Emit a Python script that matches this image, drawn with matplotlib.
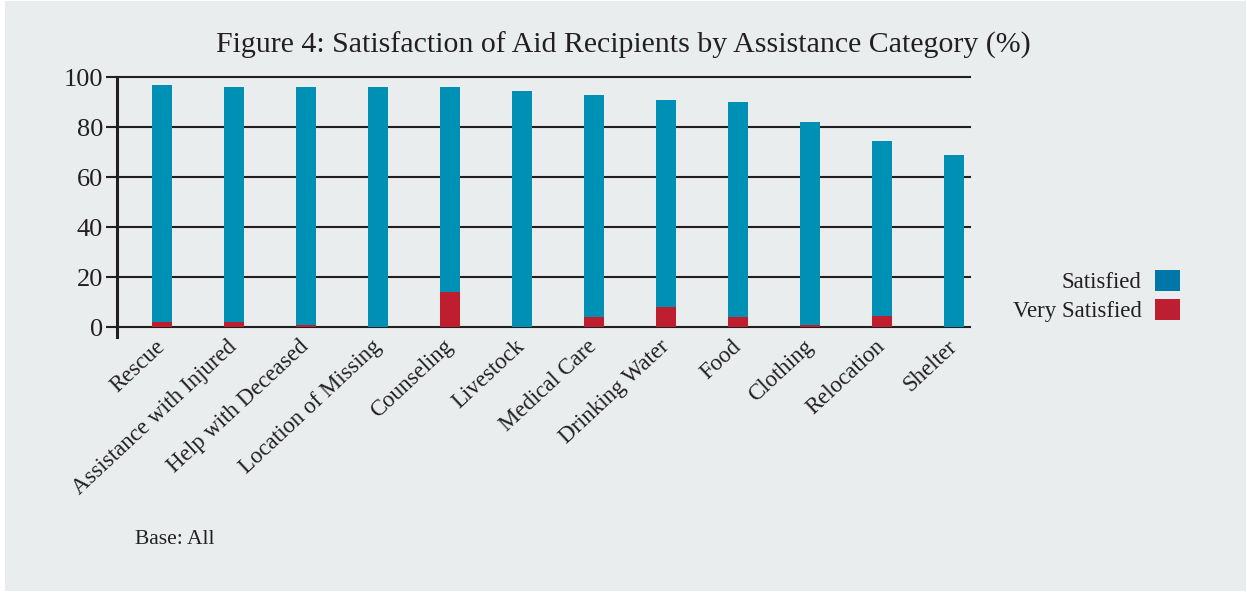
import matplotlib.pyplot as plt
from matplotlib.patches import Patch, Rectangle

# Kategorier och andelar (%)
categories = ["Rescue", "Assistance with Injured", "Help with Deceased",
              "Location of Missing", "Counseling", "Livestock", "Medical Care",
              "Drinking Water", "Food", "Clothing", "Relocation", "Shelter"]
very_satisfied = [2, 2, 1, 0, 14, 0, 4, 8, 4, 1, 4.5, 0]
total_satisfied = [97, 96, 96, 96, 96, 94.5, 93, 91, 90, 82, 74.5, 69]
satisfied = [t - v for t, v in zip(total_satisfied, very_satisfied)]
y_ticks = [0, 20, 40, 60, 80, 100]

bg = "#e9edee"
ink = "#231f20"
blue = "#008fb5"
red = "#be1e2d"

plt.rcParams["font.family"] = ["Liberation Serif", "DejaVu Serif"]

fig = plt.figure(figsize=(12.47, 5.92), dpi=100)
fig.patch.set_facecolor("white")
fig.patches.append(Rectangle((5 / 1247, 0.002), 1 - 6 / 1247, 0.996,
                             transform=fig.transFigure, facecolor=bg,
                             edgecolor="none", zorder=-10))

ax = fig.add_axes([117 / 1247, 265 / 592, 853 / 1247, 250 / 592])
ax.set_facecolor("none")

x = list(range(len(categories)))
ax.bar(x, very_satisfied, width=0.28, color=red, zorder=3)
ax.bar(x, satisfied, width=0.28, bottom=very_satisfied, color=blue, zorder=3)

ax.set_xlim(-0.625, 11.22)
ax.set_ylim(0, 100)

# horisontella linjer
for yv in y_ticks:
    ax.axhline(yv, color=ink, lw=1.5, zorder=2, clip_on=False)
ax.axvline(-0.625, ymin=-0.04, ymax=1, color=ink, lw=2.2, zorder=4, clip_on=False)

for s in ax.spines.values():
    s.set_visible(False)

ax.set_yticks(y_ticks)
ax.tick_params(axis="y", length=8, width=1.5, color=ink, pad=2,
               labelsize=19, labelcolor=ink)
ax.set_xticks(x)
ax.set_xticklabels(categories, rotation=43, ha="right", va="center",
                   rotation_mode="anchor", fontsize=16.5, color=ink)
ax.tick_params(axis="x", length=0, pad=12)

fig.text(0.4995, 1 - 45 / 592, "Figure 4: Satisfaction of Aid Recipients by Assistance Category (%)",
         ha="center", va="center", fontsize=21.5, color=ink)
fig.text(135 / 1247, 1 - 540 / 592, "Base: All", ha="left", va="center",
         fontsize=15.5, color=ink)

handles = [Patch(facecolor="#0077a8", label="Satisfied"),
           Patch(facecolor="#be1e32", label="Very Satisfied")]
fig.legend(handles=handles, loc="center right", bbox_to_anchor=(1191 / 1247, 1 - 296 / 592),
           frameon=False, markerfirst=False, fontsize=16.5, handlelength=1.05,
           handleheight=1.05, handletextpad=0.6, labelspacing=0.25, borderpad=0,
           labelcolor=ink)

fig.savefig("out.png", dpi=100, facecolor=fig.get_facecolor())
